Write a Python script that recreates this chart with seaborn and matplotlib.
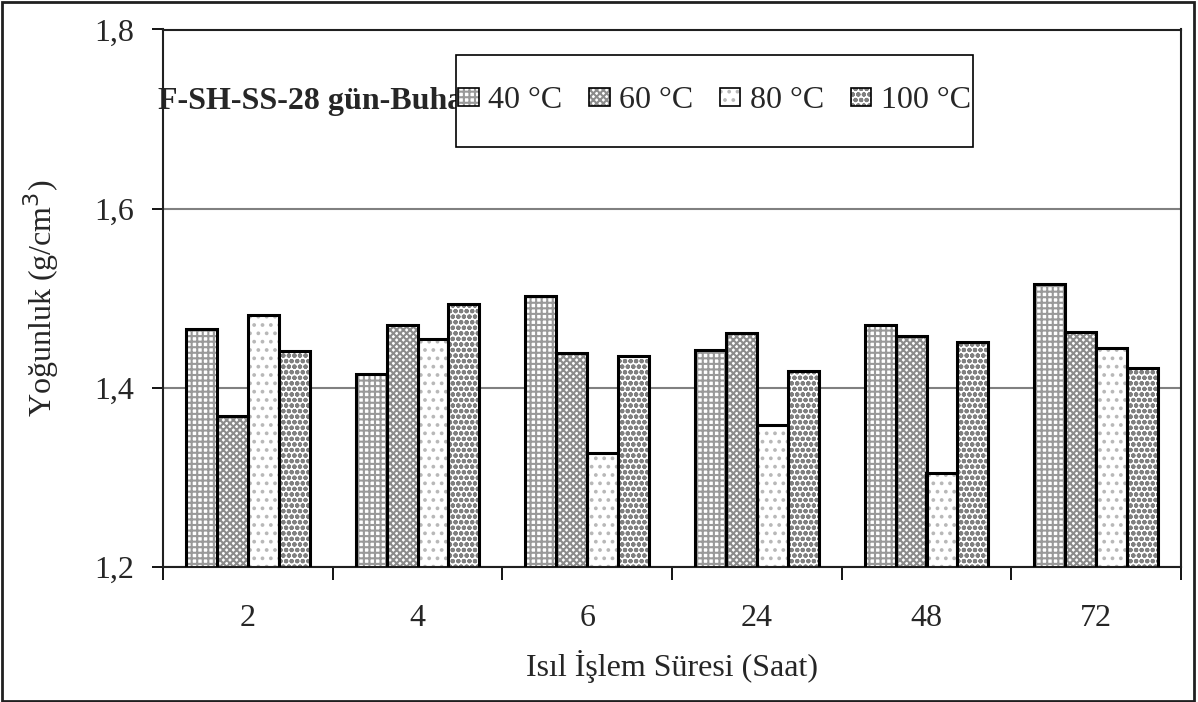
import matplotlib
matplotlib.use("Agg")
import matplotlib.pyplot as plt
import matplotlib.patches as mpatches
from matplotlib.legend_handler import HandlerTuple
from matplotlib.ticker import FuncFormatter, MultipleLocator, FixedLocator
import seaborn as sns
import pandas as pd

# Heat-treatment durations (hours) and curing temperatures
durations = ["2", "4", "6", "24", "48", "72"]
temperatures = ["40 °C", "60 °C", "80 °C", "100 °C"]

# Density (g/cm3) per duration for each temperature
density_40 = [1.466, 1.416, 1.503, 1.442, 1.470, 1.516]
density_60 = [1.369, 1.470, 1.439, 1.461, 1.458, 1.462]
density_80 = [1.481, 1.454, 1.327, 1.358, 1.305, 1.445]
density_100 = [1.441, 1.494, 1.436, 1.419, 1.451, 1.422]

series = [density_40, density_60, density_80, density_100]
df = pd.DataFrame(
    [(d, t, v) for t, vals in zip(temperatures, series) for d, v in zip(durations, vals)],
    columns=["saat", "sicaklik", "yogunluk"],
)

sns.set_style("white")
plt.rcParams["font.family"] = ["Liberation Serif", "DejaVu Serif"]
plt.rcParams["hatch.linewidth"] = 1.5
FS = 23

fig = plt.figure(figsize=(11.98, 7.02), dpi=100)
ax = fig.add_axes([163 / 1198, 1 - 567 / 702, (1181 - 163) / 1198, (567 - 29.5) / 702])

sns.barplot(
    data=df, x="saat", y="yogunluk", hue="sicaklik", order=durations,
    hue_order=temperatures, palette=["white"] * 4, width=0.73,
    linewidth=0, ax=ax, legend=False, zorder=2,
)

hatches = ["+++", "xxxxx", "..", "ooo"]
hatch_colors = ["#999999", "#8c8c8c", "#b8b8b8", "#808080"]

handles = []
for cont, hatch, hc in zip(ax.containers, hatches, hatch_colors):
    for bar in cont:
        bar.set_hatch(hatch)
        bar.set_edgecolor(hc)
        bar.set_facecolor("white")
        bar.set_linewidth(0)
        outline = mpatches.Rectangle(
            (bar.get_x(), bar.get_y()), bar.get_width(), bar.get_height(),
            fill=False, edgecolor="black", linewidth=2.2, zorder=3,
        )
        ax.add_patch(outline)
    h_fill = mpatches.Patch(facecolor="white", edgecolor=hc, hatch=hatch, linewidth=0)
    h_edge = mpatches.Patch(fill=False, edgecolor="black", linewidth=1.2)
    handles.append((h_fill, h_edge))

ax.set_ylim(1.2, 1.8)
ax.set_xlim(-0.5, len(durations) - 0.5)
ax.yaxis.set_major_locator(MultipleLocator(0.2))
ax.yaxis.set_major_formatter(FuncFormatter(lambda v, _: f"{v:.1f}".replace(".", ",")))
ax.grid(axis="y", color="#808080", linewidth=1.5)
ax.grid(axis="x", visible=False)
ax.set_axisbelow(True)

for s in ax.spines.values():
    s.set_color("#202020")
    s.set_linewidth(1.5)

ax.tick_params(axis="y", which="major", direction="out", length=8, width=1.3,
               color="black", labelsize=FS, pad=13, left=True)
ax.tick_params(axis="x", which="major", length=0, labelsize=FS, pad=27)
ax.xaxis.set_minor_locator(FixedLocator([i - 0.5 for i in range(len(durations) + 1)]))
ax.tick_params(axis="x", which="minor", direction="out", length=9, width=1.3,
               color="black", bottom=True)

ax.set_xlabel("Isıl İşlem Süresi (Saat)", fontsize=FS, labelpad=12)
ax.set_ylabel("Yoğunluk (g/cm$^3$)", fontsize=FS, labelpad=24)

# Chart title, partly hidden behind the legend box
ax.text(158 / 1198, 1 - 101 / 702, "F-SH-SS-28 gün-Buhar", transform=fig.transFigure,
        fontsize=FS, fontweight="bold", va="center", ha="left", zorder=1, clip_on=False)

# Legend box
box = (456 / 1198, 1 - 147 / 702, (973 - 456) / 1198, (147 - 55) / 702)
ax.add_patch(mpatches.Rectangle(
    box[:2], box[2], box[3], transform=fig.transFigure, facecolor="white",
    edgecolor="black", linewidth=1.2, zorder=8, clip_on=False))

leg = ax.legend(
    handles, temperatures, handler_map={tuple: HandlerTuple(ndivide=1)},
    ncol=4, loc="center", mode="expand",
    bbox_to_anchor=(box[0] + 2 / 1198, box[1], box[2] - 4 / 1198, box[3]),
    bbox_transform=fig.transFigure, fontsize=FS, frameon=False,
    borderpad=0.0, handlelength=0.65, handleheight=0.5, handletextpad=0.3,
    columnspacing=0.6, borderaxespad=0,
)
leg.set_zorder(10)

fig.patches.append(mpatches.Rectangle(
    (0.002, 0.002), 0.995, 0.995, transform=fig.transFigure, fill=False,
    edgecolor="#202020", linewidth=2, zorder=0))

fig.savefig("out.png", dpi=100)
